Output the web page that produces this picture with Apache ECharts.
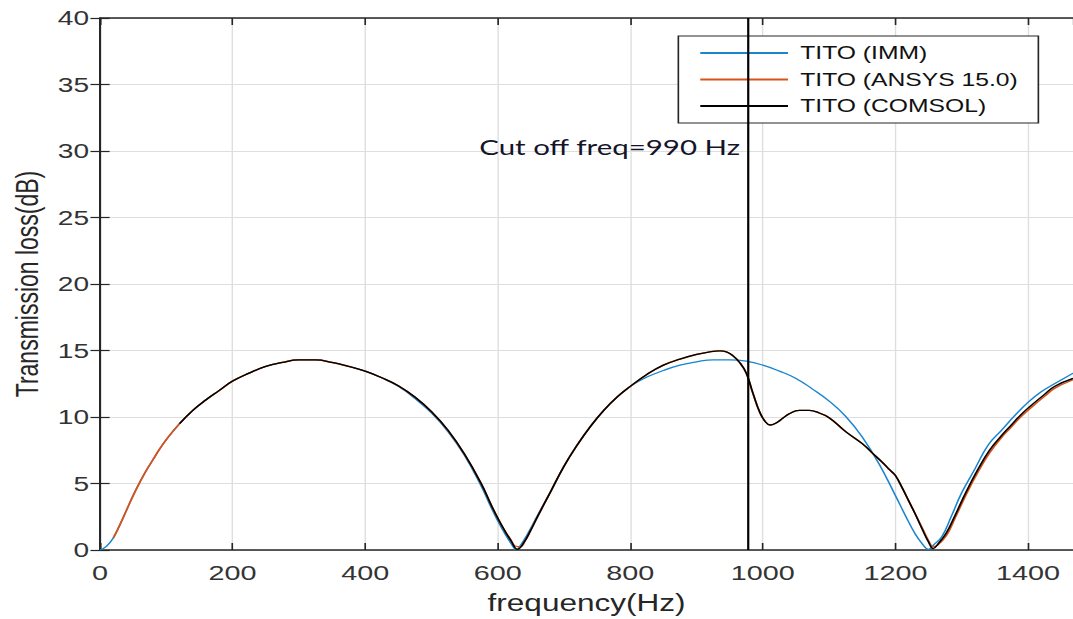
<!DOCTYPE html>
<html>
<head>
<meta charset="utf-8">
<title>Transmission loss</title>
<script src="https://cdn.jsdelivr.net/npm/echarts@6/dist/echarts.min.js"></script>
<style>
	html, body { margin: 0; padding: 0; overflow: hidden; background: #fff; }
	/* the reference figure is stretched sideways, so draw narrow and widen */
	#chart { width: 783px; height: 619px; transform: scaleX(1.3704); transform-origin: 0 0; }
</style>
</head>
<body>
<div id="chart"></div>
<script>
// TITO (IMM)
var freqImm = [0, 10, 20, 30, 40, 50, 60, 70, 80, 90, 100, 120, 140, 160, 180, 200, 225, 250, 275, 300,
	325, 350, 375, 400, 425, 450, 475, 500, 525, 550, 575, 590, 600, 610, 620, 628, 635, 645, 660, 680,
	700, 720, 740, 760, 780, 800, 825, 850, 875, 900, 925, 950, 975, 1000, 1025, 1050, 1075, 1100, 1125, 1150,
	1175, 1200, 1215, 1230, 1240, 1250, 1258, 1270, 1285, 1300, 1320, 1340, 1360, 1380, 1400, 1420, 1440, 1468]
var tlImm = [0, 0.3, 0.9, 1.9, 3.0, 4.1, 5.1, 6.0, 6.8, 7.6, 8.3, 9.5, 10.5, 11.3, 12.0, 12.7, 13.3, 13.8, 14.1, 14.3,
	14.3, 14.1, 13.8, 13.45, 12.95, 12.3, 11.4, 10.3, 8.9, 7.1, 4.8, 3.2, 2.2, 1.3, 0.5, 0.05, 0.4, 1.2, 2.6, 4.4,
	6.3, 7.9, 9.3, 10.5, 11.5, 12.3, 13.0, 13.5, 13.9, 14.15, 14.3, 14.3, 14.2, 13.9, 13.45, 12.9, 12.1, 11.2, 10.05, 8.5,
	6.5, 4.1, 2.6, 1.2, 0.5, 0.05, 0.4, 1.0, 2.6, 4.3, 6.1, 7.9, 9.0, 10.1, 11.1, 11.9, 12.5, 13.3]

// TITO (ANSYS 15.0)
var freqAnsys = [20, 30, 40, 50, 60, 70, 80, 90, 100, 120, 140, 160, 180, 200, 225, 250, 275, 300, 325, 350,
	375, 400, 425, 450, 475, 500, 525, 550, 575, 590, 600, 610, 620, 626, 634, 642, 650, 660, 680, 700,
	720, 740, 760, 780, 800, 825, 850, 875, 900, 920, 935, 945, 955, 965, 975, 985, 995, 1003, 1011, 1020,
	1030, 1040, 1055, 1070, 1085, 1100, 1125, 1150, 1165, 1180, 1192, 1200, 1210, 1220, 1230, 1242, 1250, 1257, 1263, 1277,
	1290, 1307, 1325, 1342, 1360, 1373, 1390, 1408, 1425, 1440, 1468]
var tlAnsys = [0.9, 1.9, 3.0, 4.1, 5.1, 6.0, 6.8, 7.6, 8.3, 9.5, 10.5, 11.3, 12.0, 12.7, 13.3, 13.8, 14.1, 14.3, 14.3, 14.1,
	13.8, 13.45, 12.95, 12.35, 11.5, 10.4, 9.0, 7.2, 5.0, 3.4, 2.4, 1.5, 0.75, 0.3, 0.25, 0.75, 1.5, 2.5, 4.4, 6.3,
	7.9, 9.3, 10.5, 11.5, 12.3, 13.2, 13.9, 14.35, 14.7, 14.9, 14.97, 14.9, 14.6, 14.1, 13.3, 11.8, 10.4, 9.7, 9.4, 9.55,
	9.9, 10.25, 10.5, 10.5, 10.3, 9.95, 8.9, 8.0, 7.3, 6.6, 6.0, 5.6, 4.7, 3.7, 2.7, 1.5, 0.7, 0.25, 0.35, 1.1,
	2.4, 4.2, 5.9, 7.3, 8.45, 9.15, 10.05, 10.85, 11.55, 12.15, 12.8]

// TITO (COMSOL)
var freqComsol = [120, 140, 160, 180, 200, 225, 250, 275, 300, 325, 350, 375, 400, 425, 450, 475, 500, 525, 550, 575,
	590, 600, 610, 620, 630, 640, 650, 660, 680, 700, 720, 740, 760, 780, 800, 825, 850, 875, 900, 920,
	935, 945, 955, 965, 975, 985, 995, 1003, 1011, 1020, 1030, 1040, 1055, 1070, 1085, 1100, 1125, 1150, 1165, 1180,
	1192, 1200, 1210, 1220, 1230, 1242, 1250, 1257, 1265, 1277, 1290, 1307, 1325, 1342, 1360, 1373, 1390, 1408, 1425, 1440,
	1468]
var tlComsol = [9.5, 10.5, 11.3, 12.0, 12.7, 13.3, 13.8, 14.1, 14.3, 14.3, 14.1, 13.8, 13.45, 12.95, 12.35, 11.5, 10.4, 9.0, 7.2, 5.0,
	3.4, 2.4, 1.5, 0.7, 0.05, 0.6, 1.5, 2.5, 4.4, 6.3, 7.9, 9.3, 10.5, 11.5, 12.3, 13.2, 13.9, 14.35, 14.7, 14.9,
	14.97, 14.9, 14.6, 14.1, 13.3, 11.8, 10.4, 9.7, 9.4, 9.55, 9.9, 10.25, 10.5, 10.5, 10.3, 9.95, 8.9, 8.0, 7.3, 6.6,
	6.0, 5.6, 4.7, 3.7, 2.7, 1.4, 0.6, 0.1, 0.5, 1.3, 2.6, 4.4, 6.1, 7.5, 8.6, 9.3, 10.2, 11.0, 11.7, 12.3,
	12.9]

var seriesNames = ['TITO (IMM)', 'TITO (ANSYS 15.0)', 'TITO (COMSOL)']
var cutoffFreq = 978
var cutoffLabel = 'Cut off freq=990 Hz'
var cutoffLabelY = 30.3

function pairs(xs, ys) {
	return xs.map(function (x, i) {
		return [x, ys[i]]
	})
}

var axisColor = '#262626'
var font = '"Liberation Sans", Arial, sans-serif'

var chart = echarts.init(document.getElementById('chart'), null, { renderer: 'svg' })

chart.setOption({
	animation: false,
	backgroundColor: '#fff',
	color: ['#1a85cf', '#d95319', '#000000'],
	grid: {
		left: 73,
		right: 0,
		top: 18,
		bottom: 69,
		containLabel: false,
		outerBoundsMode: 'none'
	},
	legend: {
		data: seriesNames,
		orient: 'vertical',
		left: 495,
		top: 36,
		icon: 'rect',
		itemWidth: 64,
		itemHeight: 2,
		itemGap: 6.5,
		padding: [7, 15, 7, 16],
		backgroundColor: '#fff',
		borderColor: axisColor,
		borderWidth: 1.2,
		textStyle: {
			fontFamily: font,
			fontSize: 18,
			lineHeight: 20,
			color: '#111',
			padding: [0, 0, 0, 4]
		}
	},
	xAxis: [
		{
			type: 'value',
			min: 0,
			max: 1468,
			interval: 200,
			name: 'frequency(Hz)',
			nameLocation: 'middle',
			nameGap: 42,
			nameTextStyle: { fontFamily: font, fontSize: 23, color: axisColor },
			axisLine: { show: true, onZero: false, lineStyle: { color: axisColor, width: 1.5 } },
			axisTick: { show: true, inside: true, length: 7, lineStyle: { color: axisColor, width: 1.2 } },
			axisLabel: {
				margin: 12,
				fontFamily: font,
				fontSize: 21,
				color: '#333',
				showMaxLabel: false,
				formatter: function (v) {
					return String(v)
				}
			},
			splitLine: { show: true, lineStyle: { color: '#dedede', width: 1 } }
		},
		{
			// top edge of the box
			type: 'value',
			position: 'top',
			min: 0,
			max: 1468,
			interval: 200,
			axisLine: { show: true, onZero: false, lineStyle: { color: axisColor, width: 1.5 } },
			axisTick: { show: true, inside: true, length: 7, lineStyle: { color: axisColor, width: 1.2 } },
			axisLabel: { show: false },
			splitLine: { show: false }
		}
	],
	yAxis: [
		{
			type: 'value',
			min: 0,
			max: 40,
			interval: 5,
			name: 'Transmission loss(dB)',
			nameLocation: 'middle',
			nameGap: 42,
			nameTextStyle: { fontFamily: font, fontSize: 23, color: axisColor },
			axisLine: { show: true, onZero: false, lineStyle: { color: axisColor, width: 1.5 } },
			axisTick: { show: true, inside: true, length: 7, lineStyle: { color: axisColor, width: 1.2 } },
			axisLabel: { margin: 8, fontFamily: font, fontSize: 20.5, color: '#333' },
			splitLine: { show: true, lineStyle: { color: '#dedede', width: 1 } }
		},
		{
			// right edge, only ticks show inside the frame
			type: 'value',
			position: 'right',
			min: 0,
			max: 40,
			interval: 5,
			axisLine: { show: false },
			axisTick: { show: true, inside: true, length: 7, lineStyle: { color: axisColor, width: 1.2 } },
			axisLabel: { show: false },
			splitLine: { show: false }
		}
	],
	series: [
		{
			name: seriesNames[0],
			type: 'line',
			data: pairs(freqImm, tlImm),
			showSymbol: false,
			symbol: 'none',
			smooth: 0.45,
			lineStyle: { width: 1.2 }
		},
		{
			name: seriesNames[1],
			type: 'line',
			data: pairs(freqAnsys, tlAnsys),
			showSymbol: false,
			symbol: 'none',
			smooth: 0.45,
			lineStyle: { width: 1.4 }
		},
		{
			name: seriesNames[2],
			type: 'line',
			data: pairs(freqComsol, tlComsol),
			showSymbol: false,
			symbol: 'none',
			smooth: 0.45,
			lineStyle: { width: 1.3 },
			markLine: {
				silent: true,
				symbol: 'none',
				label: { show: false },
				lineStyle: { color: '#000', type: 'solid', width: 1.6 },
				data: [{ xAxis: cutoffFreq }]
			},
			markPoint: {
				silent: true,
				symbol: 'circle',
				symbolSize: 0,
				itemStyle: { color: 'rgba(0,0,0,0)' },
				label: {
					show: true,
					position: 'left',
					distance: 6,
					formatter: cutoffLabel,
					fontFamily: 'Lato, "Open Sans", sans-serif',
					fontSize: 21.5,
					color: '#14142a'
				},
				data: [{ coord: [cutoffFreq, cutoffLabelY] }]
			}
		}
	]
})
</script>
</body>
</html>
